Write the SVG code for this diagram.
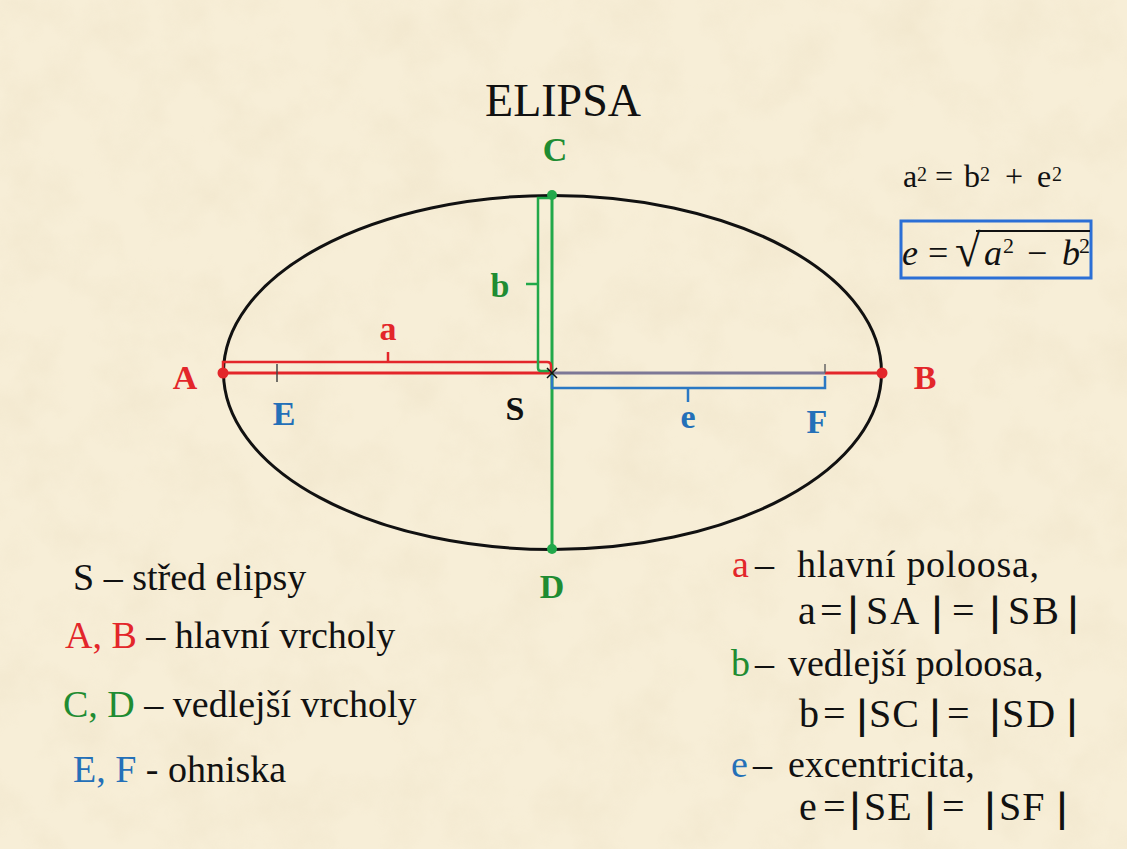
<svg xmlns="http://www.w3.org/2000/svg" width="1127" height="849" viewBox="0 0 1127 849">
<defs>
<filter id="tex" x="0" y="0" width="100%" height="100%">
<feTurbulence type="fractalNoise" baseFrequency="0.018" numOctaves="4" seed="7"/>
<feColorMatrix type="matrix" values="0 0 0 0 0.80  0 0 0 0 0.70  0 0 0 0 0.50  1.6 0 0 0 -0.65"/>
</filter>
<style>
.t{font-family:"Liberation Serif","Times New Roman",serif;fill:#111}
.lb{font-family:"Liberation Serif","Times New Roman",serif;font-weight:bold;font-size:34px;text-anchor:middle}
.red{fill:#e3262a}
.grn{fill:#1f8c32}
.blu{fill:#2470b8}
.blk{fill:#111}
.txt{font-size:38px}
.eq{font-size:40px}
.bar{stroke:#111;stroke-width:1.8}
.m{font-family:"Liberation Serif","Times New Roman",serif;font-style:italic;font-size:36px;fill:#111}
</style>
</defs>
<rect width="1127" height="849" fill="#f7eed7"/>
<rect width="1127" height="849" filter="url(#tex)" opacity="0.35"/>

<text class="t" x="563" y="116" font-size="46" text-anchor="middle">ELIPSA</text>

<g id="ellipse">
<ellipse cx="552.5" cy="372.5" rx="329" ry="177" fill="none" stroke="#111" stroke-width="3"/>
</g>

<g id="connectors" fill="none" stroke-linecap="butt">
<line x1="223" y1="373" x2="552" y2="373" stroke="#e3262a" stroke-width="3"/>
<line x1="552" y1="373" x2="825" y2="373" stroke="#7d7896" stroke-width="3"/>
<line x1="825" y1="373" x2="882" y2="373" stroke="#e3262a" stroke-width="3"/>
<line x1="552" y1="195" x2="552" y2="549" stroke="#22a84a" stroke-width="3"/>
<path d="M223,373 V362 H547 Q551,362 551,366 V372" stroke="#e3262a" stroke-width="2.5"/>
<line x1="388" y1="362" x2="388" y2="352" stroke="#e3262a" stroke-width="2.5"/>
<path d="M552,198 H538 V368 Q538,371 541,371 H549" stroke="#22a84a" stroke-width="2.5"/>
<line x1="538" y1="284" x2="526" y2="284" stroke="#22a84a" stroke-width="2.5"/>
<path d="M552,375 V388 H825 V376" stroke="#2a78c4" stroke-width="2.5"/>
<line x1="688" y1="388" x2="688" y2="402" stroke="#2a78c4" stroke-width="2.5"/>
</g>

<g id="node-A"><circle cx="223" cy="373" r="5.5" fill="#e3262a"/><text class="lb red" x="185" y="389">A</text></g>
<g id="node-B"><circle cx="882" cy="373" r="5.5" fill="#e3262a"/><text class="lb red" x="925" y="389">B</text></g>
<g id="node-C"><circle cx="552" cy="195" r="5" fill="#22a84a"/><text class="lb grn" x="555" y="161">C</text></g>
<g id="node-D"><circle cx="552" cy="549" r="5" fill="#22a84a"/><text class="lb grn" x="552" y="598">D</text></g>
<g id="node-E"><line x1="277" y1="364" x2="277" y2="382" stroke="#444" stroke-width="1.5"/><text class="lb blu" x="284" y="425">E</text></g>
<g id="node-F"><line x1="825" y1="364" x2="825" y2="373" stroke="#666" stroke-width="1.5"/><text class="lb blu" x="817" y="433">F</text></g>
<g id="node-S"><path d="M547,368 L557,378 M557,368 L547,378" stroke="#111" stroke-width="1.5"/><text class="lb blk" x="515" y="420">S</text></g>
<g id="label-a"><text class="lb red" x="388" y="340">a</text></g>
<g id="label-b"><text class="lb grn" x="500" y="297">b</text></g>
<g id="label-e"><text class="lb blu" x="688" y="428">e</text></g>

<g id="formula1">
<text class="t" y="187" font-size="32"><tspan x="903">a</tspan><tspan x="917" y="181" font-size="20">2</tspan><tspan x="935" y="187">=</tspan><tspan x="964">b</tspan><tspan x="980" y="181" font-size="20">2</tspan><tspan x="1005" y="187">+</tspan><tspan x="1037">e</tspan><tspan x="1052" y="181" font-size="20">2</tspan></text>
</g>

<g id="formula2">
<rect x="901" y="221" width="190" height="57" fill="none" stroke="#2b6fd6" stroke-width="3"/>
<text class="m" x="902" y="265">e</text>
<text class="t" x="928" y="265" font-size="36">=</text>
<text class="t" x="955" y="266" font-size="46">√</text>
<line x1="976" y1="231" x2="1090" y2="231" stroke="#111" stroke-width="2"/>
<text class="m" x="984" y="265">a</text>
<text class="t" x="1003" y="253" font-size="22">2</text>
<text class="t" x="1027" y="265" font-size="36">−</text>
<text class="m" x="1062" y="265">b</text>
<text class="t" x="1079" y="253" font-size="22">2</text>
</g>

<g id="legend-left">
<text class="t txt" x="73" y="590">S – střed elipsy</text>
<text class="t txt" x="65" y="648"><tspan class="red">A, B</tspan> – hlavní vrcholy</text>
<text class="t txt" x="63" y="717"><tspan class="grn">C, D</tspan> – vedlejší vrcholy</text>
<text class="t txt" x="73" y="782"><tspan class="blu">E, F</tspan> - ohniska</text>
</g>

<g id="legend-right">
<text class="t txt" y="577"><tspan x="732" class="red">a</tspan><tspan x="755">–</tspan><tspan x="797" letter-spacing="0.7">hlavní poloosa,</tspan></text>
<text class="t eq" y="624"><tspan x="798">a</tspan><tspan x="820">=</tspan><tspan x="849" class="bar">|</tspan><tspan x="866" letter-spacing="2">SA</tspan><tspan x="933" class="bar">|</tspan><tspan x="952">=</tspan><tspan x="991" class="bar">|</tspan><tspan x="1008" letter-spacing="2">SB</tspan><tspan x="1069" class="bar">|</tspan></text>
<text class="t txt" y="676"><tspan x="731" class="grn">b</tspan><tspan x="755">–</tspan><tspan x="788">vedlejší poloosa,</tspan></text>
<text class="t eq" y="727"><tspan x="799">b</tspan><tspan x="823">=</tspan><tspan x="858" class="bar">|</tspan><tspan x="869" letter-spacing="1">SC</tspan><tspan x="931" class="bar">|</tspan><tspan x="947">=</tspan><tspan x="991" class="bar">|</tspan><tspan x="1002" letter-spacing="2">SD</tspan><tspan x="1068" class="bar">|</tspan></text>
<text class="t txt" y="777"><tspan x="731" class="blu">e</tspan><tspan x="753">–</tspan><tspan x="788">excentricita,</tspan></text>
<text class="t eq" y="820"><tspan x="799">e</tspan><tspan x="823">=</tspan><tspan x="851" class="bar">|</tspan><tspan x="864" letter-spacing="1">SE</tspan><tspan x="926" class="bar">|</tspan><tspan x="942">=</tspan><tspan x="986" class="bar">|</tspan><tspan x="999" letter-spacing="1">SF</tspan><tspan x="1058" class="bar">|</tspan></text>
</g>
</svg>
